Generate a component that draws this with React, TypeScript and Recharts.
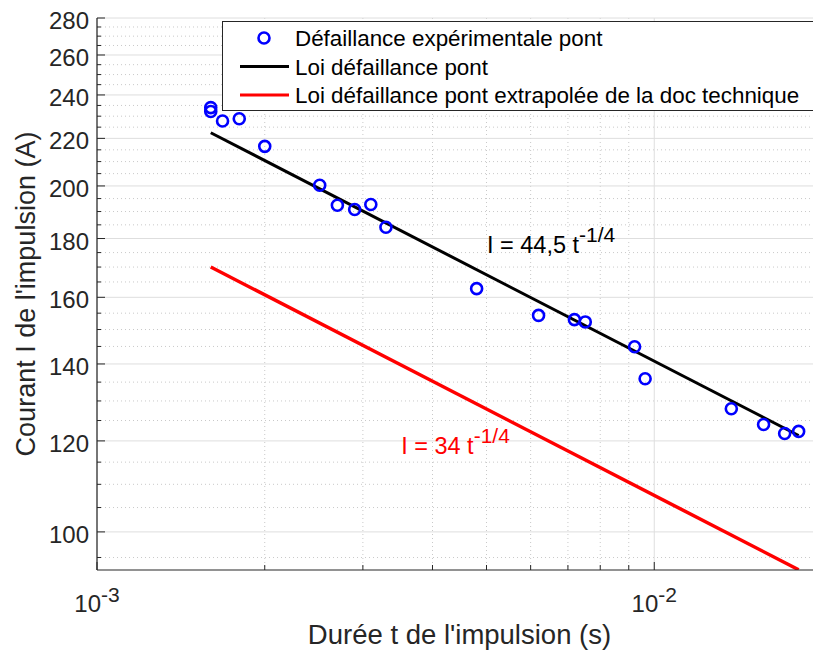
import { ComposedChart, Scatter, Line, XAxis, YAxis, CartesianGrid, Legend, ReferenceDot } from "recharts";

// pulse duration (s) and failure current (A)
const pulseT = [0.0016, 0.0016, 0.00168, 0.0018, 0.002, 0.00251, 0.0027, 0.0029, 0.0031, 0.0033, 0.0048, 0.0062, 0.00719, 0.00752, 0.00922, 0.00963, 0.01375, 0.01571, 0.01714, 0.01816];
const pulseI = [234.0, 232.2, 227.8, 228.8, 216.5, 200.3, 192.4, 190.8, 192.7, 184.1, 162.8, 154.3, 153.0, 152.3, 144.9, 135.9, 128.0, 124.0, 121.8, 122.3];

// straight lines in log-log: end points only
const lawT = [0.0016, 0.01816];
const lawFit = [222.5, 121.3];
const lawDoc = [170.0, 92.7];

const xMajor = [0.001, 0.01];
const xMinor = [0.002, 0.003, 0.004, 0.005, 0.006, 0.007, 0.008, 0.009, 0.02];
const xLabels: Record<string, string> = { "0.001": "-3", "0.01": "-2" };
const yMajor = [100, 120, 140, 160, 180, 200, 220, 240, 260, 280];
const yMinor = [95, 105, 110, 115, 125, 130, 135, 145, 150, 155, 165, 170, 175, 185, 190, 195, 205, 210, 215, 225, 230, 235, 245, 250, 255, 265, 270, 275];

const legendLabels = [
  "Défaillance expérimentale pont",
  "Loi défaillance pont",
  "Loi défaillance pont extrapolée de la doc technique",
];

const FONT = "'Liberation Sans', Arial, Helvetica, sans-serif";
const AXIS = "#262626";

const points = pulseT.map((t, i) => ({ t, I: pulseI[i] }));
const fitLine = lawT.map((t, i) => ({ t, I: lawFit[i] }));
const docLine = lawT.map((t, i) => ({ t, I: lawDoc[i] }));

const xTicks = [...xMajor, ...xMinor].sort((a, b) => a - b);
const yTicks = [...yMajor, ...yMinor].sort((a, b) => a - b);

const isMajor = (list: number[], v: number) => list.some((m) => Math.abs(m - Number(v)) < m * 1e-6);

function YTick({ x, y, payload }: any) {
  const major = isMajor(yMajor, payload.value);
  return (
    <g>
      <line x1={x} x2={x + (major ? 8 : 4)} y1={y} y2={y} stroke={AXIS} strokeWidth={1} />
      {major && (
        <text x={x - 8} y={y + 11} textAnchor="end" fontSize={24} fill={AXIS} fontFamily={FONT}>
          {Math.round(payload.value)}
        </text>
      )}
    </g>
  );
}

function XTick({ x, y, payload }: any) {
  const major = isMajor(xMajor, payload.value);
  return (
    <g>
      <line x1={x} x2={x} y1={y} y2={y - (major ? 8 : 5)} stroke={AXIS} strokeWidth={1} />
      {major && (
        <text x={x} y={y + 42} textAnchor="middle" fontSize={24} fill={AXIS} fontFamily={FONT}>
          10<tspan dy={-10.5} fontSize={21}>{xLabels[String(payload.value)]}</tspan>
        </text>
      )}
    </g>
  );
}

function TopTick({ x, y, payload }: any) {
  const major = isMajor(xMajor, payload.value);
  return <line x1={x} x2={x} y1={y} y2={y + (major ? 8 : 5)} stroke={AXIS} strokeWidth={1} />;
}

function LegendBox() {
  const rows = [16, 44.5, 73];
  return (
    <div style={{ border: `1px solid ${AXIS}`, background: "#fff", width: 620, height: 88 }}>
      <svg width={620} height={88}>
        <circle cx={41} cy={rows[0]} r={5.5} fill="none" stroke="#0000ff" strokeWidth={2.6} />
        <line x1={17} x2={66} y1={rows[1]} y2={rows[1]} stroke="#000" strokeWidth={3} />
        <line x1={17} x2={66} y1={rows[2]} y2={rows[2]} stroke="#ff0000" strokeWidth={3} />
        {legendLabels.map((s, i) => (
          <text key={s} x={72} y={rows[i] + 8} fontSize={22.4} fill="#000" fontFamily={FONT}>
            {s}
          </text>
        ))}
      </svg>
    </div>
  );
}

function Annot({ cx, cy, main, color }: any) {
  return (
    <text x={cx} y={cy} fontSize={23.5} fill={color} fontFamily={FONT}>
      {main}
      <tspan dy={-11} fontSize={21}>-1/4</tspan>
    </text>
  );
}

export default function App() {
  return (
    <div style={{ position: "absolute", left: 0, top: 0, width: 813, height: 652, overflow: "hidden", background: "#fff", fontFamily: FONT }}>
      <ComposedChart width={822} height={652} margin={{ top: 18, right: 0, bottom: 0, left: 0 }}>
        <CartesianGrid horizontalValues={yMinor} verticalValues={xMinor} stroke="#c9c9c9" strokeDasharray="1 3" />
        <CartesianGrid horizontalValues={yMajor} verticalValues={xMajor} stroke="#dedede" />
        <XAxis
          dataKey="t"
          type="number"
          scale="log"
          domain={[0.001, 0.02]}
          allowDataOverflow
          ticks={xTicks}
          interval={0}
          tick={<XTick />}
          tickSize={0}
          tickMargin={0}
          tickLine={false}
          axisLine={{ stroke: AXIS, strokeWidth: 1.2 }}
          height={82}
          label={{ value: "Durée t de l'impulsion (s)", position: "insideBottom", offset: 8, fontSize: 27.5, fill: AXIS, fontFamily: FONT }}
        />
        <XAxis
          xAxisId="top"
          orientation="top"
          dataKey="t"
          type="number"
          scale="log"
          domain={[0.001, 0.02]}
          allowDataOverflow
          ticks={xTicks}
          interval={0}
          tick={<TopTick />}
          tickSize={0}
          tickMargin={0}
          tickLine={false}
          axisLine={{ stroke: AXIS, strokeWidth: 1.2 }}
          height={0}
        />
        <YAxis
          dataKey="I"
          type="number"
          scale="log"
          domain={[92.65, 280]}
          allowDataOverflow
          ticks={yTicks}
          interval={0}
          tick={<YTick />}
          tickSize={0}
          tickMargin={0}
          tickLine={false}
          axisLine={{ stroke: AXIS, strokeWidth: 1.2 }}
          width={97}
          label={(p: any) => {
            const vb = p.viewBox;
            const cy = vb.y + vb.height / 2;
            return (
              <text x={35} y={cy} transform={`rotate(-90 35 ${cy})`} textAnchor="middle" fontSize={27} fill={AXIS} fontFamily={FONT}>
                Courant I de l'impulsion (A)
              </text>
            );
          }}
        />
        <Scatter
          name={legendLabels[0]}
          data={points}
          dataKey="I"
          isAnimationActive={false}
          shape={(p: any) => <circle cx={p.cx} cy={p.cy} r={5.5} fill="none" stroke="#0000ff" strokeWidth={2.6} />}
        />
        <Line name={legendLabels[1]} data={fitLine} dataKey="I" type="linear" stroke="#000" strokeWidth={3} dot={false} isAnimationActive={false} />
        <Line name={legendLabels[2]} data={docLine} dataKey="I" type="linear" stroke="#ff0000" strokeWidth={3.5} dot={false} isAnimationActive={false} />
        <ReferenceDot x={0.00501} y={174.8} r={0} shape={(p: any) => <Annot cx={p.cx} cy={p.cy} main="I = 44,5 t" color="#000" />} />
        <ReferenceDot x={0.003514} y={116.9} r={0} shape={(p: any) => <Annot cx={p.cx} cy={p.cy} main="I = 34 t" color="#ff0000" />} />
        <Legend layout="vertical" align="center" verticalAlign="middle" content={() => <LegendBox />} wrapperStyle={{ left: 222, top: 21, width: 622, height: 90 }} />
      </ComposedChart>
    </div>
  );
}
